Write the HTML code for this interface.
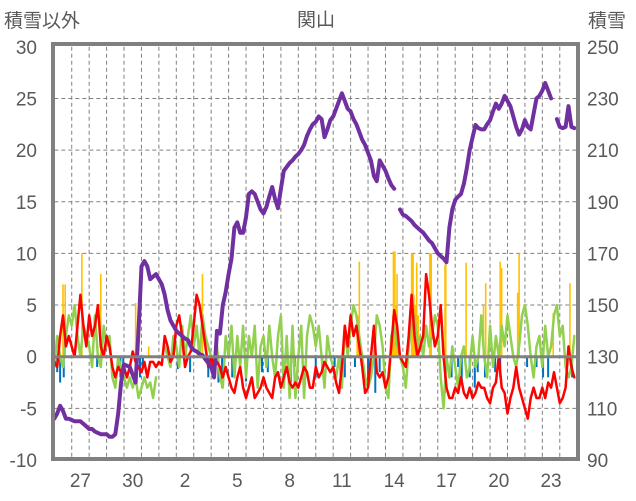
<!DOCTYPE html>
<html><head><meta charset="utf-8">
<style>
body{margin:0;background:#fff;width:636px;height:501px;overflow:hidden}
svg{display:block;font-family:"Liberation Sans","Noto Sans CJK JP",sans-serif}
</style></head>
<body>
<svg id="chart" width="636" height="501" viewBox="0 0 636 501">
<text x="4" y="27" font-size="19" fill="#595959">積雪以外</text>
<text x="316" y="26" font-size="19" fill="#595959" text-anchor="middle">関山</text>
<text x="588" y="27" font-size="19" fill="#595959">積雪</text>
<g id="grid"></g>
<g id="bars"></g>
<g id="lines"></g>
<g id="axes"></g>
</svg>
<script>
const leftTicks=[30,25,20,15,10,5,0,-5,-10];
const rightTicks=[250,230,210,190,170,150,130,110,90];
const dayLabels=["27","30","2","5","8","11","14","17","20","23"];
const dayLabelIdx=[1,4,7,10,13,16,19,22,25,28];
const red=[-0.5,-1,2,4,1,2, 1,0,3,6,3,1, 4,2,3,5,1,0, 2,1,-1,-2,-1,-1.5, -1,-2,-1,0.5,-0.5,-1, -1.5,-0.5,-2,-0.5,-0.5,-1,
-0.5,-0.8,2,1,-0.5,0, 3,4,2,-1,0,0.5, 3,6,5,3,1,-1, 0,-1,-0.5,-1,-2,-1, -2,-3,-3.5,-2,-1,-3, -4,-3,-2,-4,-3.5,-3,
-2,-3,-3.5,-4,-2,-1.5, -3,-2,-1,-2.5,-3,-2.5, -3,-2,-1,-1.5,-3,-3, -1,-2,-1.5,-0.5,-1,-1.5, -1,-2.5,-3.5,-1,3,1,
4,2,3,1,-1,-3.5, -3,0,3,-1.5,-2,-1.5, -3,-2,1,4.5,3,0, -0.5,-1,2,6,2,0, 1,2,8,6,3,1, 2,5,0,-3,-4,-4,
-3,-3.5,-2,-3.5,-4,-3, -4,-3.5,-2.5,-3,-3,-4, -4.5,-3,-2.5,0,-3,-3.5, -5.5,-4,-3,-1,-3,-4, -5,-6,-4,-3,-4,-4, -3,-4,-2.5,-3,-1.5,-3, -4.5,-4,-3,1,-1,-2];
const green=[-1,2,0,-1,2,4, 3,5,2,0,3,2, 1,-1,4,0,-1,3, 1,2,-2,-3,0,-1, -2,-3,-2,-3,-2,-4, -3,-2,-3,-2.5,-4,-2,
null,null,1,0,-1,2, 1,-1,3,0,2,4, 1,3,0,4,2,1, 0,-1,1,-2,-3,2, 0,3,-2,2,-1,3, -2,2,0,3,-3,1,
2,-1,3,0,-2,2, 4,-3,2,-4,3,-4, 0,3,-4,2,4,3, 1,3,0,-3,2,0, -1,-2,0,-3,3,0, 3,5,4,2,0,-2,
-3,-2,0,4,3,1, -3,-4,2,3,1,0, -1,-3,1,3,4,1, 2,0,3,1,2,4, 3,-2,-5,0,-2,1, -1,-3,0,1,-2,-1,
2,-1,0,4,0,-2, 3,-1,2,0,3,1, 4,2,0,-1,1,4, 5,3,0,-2,1,2, -1,3,0,1,4,5, 2,3,-1,-2,-1,2];
const snow=[106,108,111,109,106,106,105.5,105,105,105,104,103,102,102,101,100.5,100,100,100,99,99,100,108,120,127,126.5,126,123,120,140,
165,167,165,160,161,162,160,158,154,148,144,142,140,139,138,137,136.5,134,132.6,132,131,130.6,129,127.5,126,122,140,139,150,155,
162,168,180,182,178,178,184,193,194,193,190,187,185.5,188,192,195.7,191,187.5,195,202,203.5,205,206,207.5,208.5,210,212,215.5,218,220,
221,223,222,215,218,221.6,223,226,229,232,229,226,225,222,220,217,214,212,209,206,200,198,206,204,202,199,196.5,195,null,187,
185,184.5,183.5,182.5,181,180,179,178,176.5,175,174,172,170,169,168,166.6,180,187,190.7,192,193,197,203,210,215,219.7,218.5,218,218,220,
221.6,225,228,226,228,231,229,227,223,219,216,218,221.6,219,218,224,230,231,233,236,233,230,null,222,219,218.5,219,227,219,218.5];
const precipHours=[12,15,38,64,112,130,182,204,417,418,420,466,467,469,471,472,492,493,494,495,497,499,501,517,518,519,538,539,567,591,594,614,616,638,640,687,710];
const precipVals=[7,7,10,8,5.2,1,1.5,8,3.5,4,9.2,4,10.2,10.2,5,8,10,10,10,6,5,9.1,4,10,4,10,8.9,10,9.1,5,7.1,9.2,8.6,6.2,10,4.2,7.1];
const negHours=[4,8,13,59,88,91,95,114,118,122,170,187,212,217,226,231,245,264,286,294,322,326,331,360,369,386,393,400,414,432,442,448,538,547,556,561,572,579,583,593,607,614,651,664,673,680,704,713];
const negVals=[-1.5,-2.5,-2,-1,-1,-2,-1,-1.5,-2,-1,-1.2,-1.5,-2,-1.5,-2.5,-3,-2,-2.4,-1.5,-1.5,-1,-2.5,-1,-2,-1.5,-1,-1,-2,-1,-2.5,-3.5,-1.5,-3.5,-2,-1,-2.5,-2,-3,-1.5,-2,-1.5,-2,-1,-1,-2,-2,-1,-2];

const NS="http://www.w3.org/2000/svg";
const X0=54.3,X1=577.2,DAYS=30;
const xDay=d=>X0+d*(X1-X0)/DAYS;
const xHour=h=>xDay(h/24);
const xIdx=i=>xDay(i/6);
const yL=v=>356.7-v*10.33;
const yR=r=>yL((r-130)/4);
function mk(tag,attrs,parent){const e=document.createElementNS(NS,tag);for(const k in attrs)e.setAttribute(k,attrs[k]);parent.appendChild(e);return e;}
const grid=document.getElementById('grid'),bars=document.getElementById('bars'),lines=document.getElementById('lines'),axes=document.getElementById('axes');
leftTicks.forEach(v=>{if(v===0||v===30||v===-10)return;const l=mk('line',{x1:X0,x2:X1,y1:yL(v),y2:yL(v),stroke:'#808080','stroke-width':1,'stroke-dasharray':'4 3'},grid);

});
for(let d=1;d<DAYS;d++){const l=mk('line',{x1:xDay(d),x2:xDay(d),y1:yL(30),y2:yL(-10),stroke:'#808080','stroke-width':1,'stroke-dasharray':'4 3'},grid);

}
precipHours.forEach((h,i)=>{const v=precipVals[i];const r=mk('rect',{x:xHour(h)-0.8,y:yL(v),width:1.6,height:yL(0)-yL(v),fill:'#ffc000'},bars);

});
negHours.forEach((h,i)=>{const v=negVals[i];const r=mk('rect',{x:xHour(h)-1,y:yL(0),width:2,height:yL(v)-yL(0),fill:'#0070c0'},bars);

});
function path(arr,ymap,color,w,name){let d='',pen=false;arr.forEach((v,i)=>{if(v===null){pen=false;return;}d+=(pen?'L':'M')+xIdx(i).toFixed(1)+' '+ymap(v).toFixed(1);pen=true;});
const p=mk('path',{d:d,fill:'none',stroke:color,'stroke-width':w,'stroke-linejoin':'round','stroke-linecap':'round'},lines);

}
path(green,yL,'#92d050',2.5,'green-series-line');
path(red,yL,'#ff0000',2.5,'red-series-line');
path(snow,yR,'#7030a0',4,'snow-depth-line');
const z=mk('line',{x1:X0,x2:X1,y1:yL(0),y2:yL(0),stroke:'#808080','stroke-width':3},axes);


const f=mk('rect',{x:53,y:44,width:525,height:415,fill:'none',stroke:'#808080','stroke-width':4},axes);


leftTicks.forEach(v=>{const t=mk('text',{x:37,y:yL(v)+7,'font-size':19,fill:'#595959','text-anchor':'end'},axes);t.textContent=v;

});
rightTicks.forEach(v=>{const t=mk('text',{x:587,y:yR(v)+7,'font-size':19,fill:'#595959'},axes);t.textContent=v;

});
dayLabels.forEach((s,i)=>{const t=mk('text',{x:xDay(dayLabelIdx[i]+0.5),y:487,'font-size':19,fill:'#595959','text-anchor':'middle'},axes);t.textContent=s;

});
</script>
</body></html>
